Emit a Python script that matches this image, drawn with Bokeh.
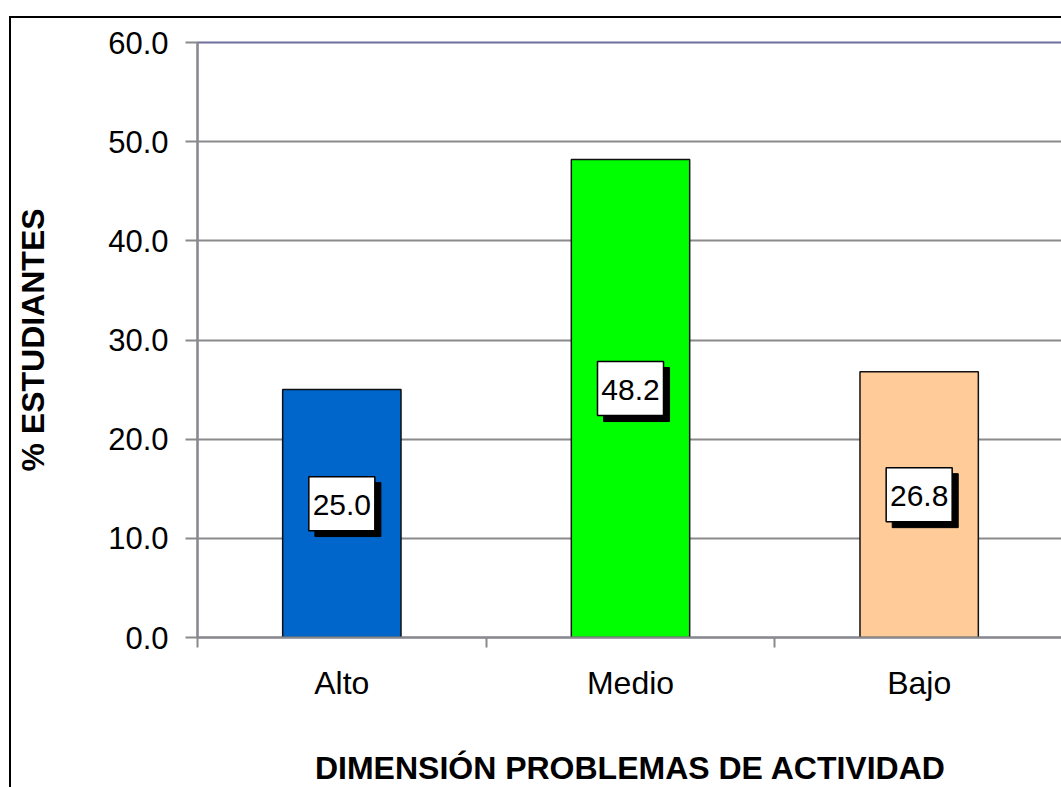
from bokeh.plotting import figure
from bokeh.models import Range1d, FixedTicker, NumeralTickFormatter, ColumnDataSource
from bokeh.transform import dodge
from bokeh.core.properties import value
from bokeh.embed import file_html
from bokeh.resources import INLINE

categories = ["Alto", "Medio", "Bajo"]
percentages = [25.0, 48.2, 26.8]
bar_colors = ["#0066CC", "#00FF00", "#FFCC99"]
y_ticks = [0, 10, 20, 30, 40, 50, 60]

FONT = "Liberation Sans"

xs = [i + 0.5 for i in range(len(categories))]
src = ColumnDataSource(dict(
    x=xs,
    top=percentages,
    color=bar_colors,
    mid=[v / 2 for v in percentages],
    lbl=[f"{v:.1f}" for v in percentages],
))

p = figure(width=1052, height=771,
           x_range=Range1d(0, len(categories)), y_range=Range1d(0, 60),
           output_backend="svg", toolbar_location=None,
           min_border_left=186, min_border_right=0,
           min_border_top=24, min_border_bottom=152,
           margin=(16, 0, 0, 9),
           styles={"border-left": "2px solid black", "border-top": "2px solid black"})

p.background_fill_color = "white"
p.border_fill_color = "white"
p.outline_line_color = "#6f6f9c"
p.outline_line_width = 2

p.vbar(x="x", top="top", width=0.41, bottom=0, source=src,
       fill_color="color", line_color="#111111", line_width=1.5)

# data labels: shadow box, white box, text
p.rect(x=dodge("x", 0.021, range=p.x_range), y=dodge("mid", 0.4, range=p.y_range),
       width=66, height=54, width_units="screen", height_units="screen",
       source=src, fill_color="black", line_color="black")
p.rect(x="x", y=dodge("mid", 1.0, range=p.y_range),
       width=66, height=54, width_units="screen", height_units="screen",
       source=src, fill_color="white", line_color="black", line_width=1.5)
p.text(x="x", y="mid", text="lbl", source=src,
       text_font=value(FONT), text_font_size="30px", text_color="black",
       text_align="center", text_baseline="middle",
       x_offset=0, y_offset=-9)

# grid
p.xgrid.grid_line_color = None
p.ygrid.ticker = FixedTicker(ticks=y_ticks)
p.ygrid.grid_line_color = "#8a8a8a"
p.ygrid.grid_line_width = 2

# y axis
p.yaxis.ticker = FixedTicker(ticks=y_ticks)
p.yaxis.formatter = NumeralTickFormatter(format="0.0")
p.yaxis.axis_line_color = "#8a8a8a"
p.yaxis.axis_line_width = 2
p.yaxis.major_tick_line_color = "#8a8a8a"
p.yaxis.major_tick_line_width = 2
p.yaxis.major_tick_out = 12
p.yaxis.major_tick_in = 0
p.yaxis.minor_tick_line_color = None
p.yaxis.major_label_text_font = FONT
p.yaxis.major_label_text_font_size = "31px"
p.yaxis.major_label_text_color = "black"
p.yaxis.major_label_standoff = 17
p.yaxis.axis_label = "% ESTUDIANTES"
p.yaxis.axis_label_text_font = FONT
p.yaxis.axis_label_text_font_size = "32px"
p.yaxis.axis_label_text_font_style = "bold"
p.yaxis.axis_label_text_color = "black"
p.yaxis.axis_label_standoff = 54

# x axis
p.xaxis.ticker = FixedTicker(ticks=xs, minor_ticks=list(range(len(categories) + 1)))
p.xaxis.major_label_overrides = {x: c for x, c in zip(xs, categories)}
p.xaxis.axis_line_color = "#8a8a8a"
p.xaxis.axis_line_width = 2
p.xaxis.major_tick_line_color = None
p.xaxis.major_tick_out = 10
p.xaxis.major_tick_in = 0
p.xaxis.minor_tick_line_color = "#8a8a8a"
p.xaxis.minor_tick_line_width = 2
p.xaxis.minor_tick_out = 10
p.xaxis.minor_tick_in = 0
p.xaxis.major_label_text_font = FONT
p.xaxis.major_label_text_font_size = "32px"
p.xaxis.major_label_text_color = "black"
p.xaxis.major_label_standoff = 17
p.xaxis.axis_label = "DIMENSIÓN PROBLEMAS DE ACTIVIDAD"
p.xaxis.axis_label_text_font = FONT
p.xaxis.axis_label_text_font_size = "32px"
p.xaxis.axis_label_text_font_style = "bold"
p.xaxis.axis_label_text_color = "black"
p.xaxis.axis_label_standoff = 46

open("out.html", "w").write(file_html(p, INLINE))
